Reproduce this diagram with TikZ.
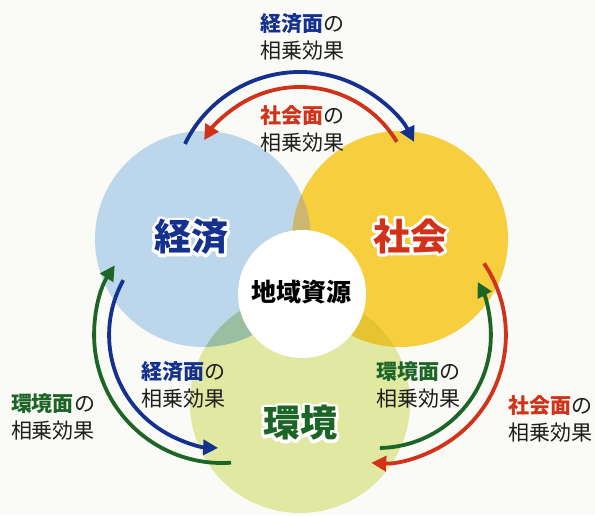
\documentclass[tikz,border=0pt]{standalone}
\usepackage{fontspec}
\setmainfont{Noto Sans CJK JP}
\usetikzlibrary{arrows.meta}
\definecolor{bg}{HTML}{FAFAF6}
\definecolor{fblue}{HTML}{BCD6EC}
\definecolor{fyel}{HTML}{F6CE3E}
\definecolor{fgrn}{HTML}{E1E8A2}
\definecolor{fby}{HTML}{CDB770}
\definecolor{fbg}{HTML}{99BEA2}
\definecolor{fyg}{HTML}{E6C332}
\definecolor{cblue}{HTML}{14318F}
\definecolor{cred}{HTML}{D0321A}
\definecolor{cgrn}{HTML}{1C6526}
\definecolor{txt}{HTML}{1E1E1E}
\tikzset{
  biglbl/.style={font=\fontsize{37}{40}\selectfont\bfseries, inner sep=0pt},
  halolbl/.style={font=\fontsize{37}{40}\selectfont\bfseries\addfontfeature{FakeBold=16}, inner sep=0pt, text=white, line join=round, draw=none},
  smalllbl/.style={font=\fontsize{21}{27}\selectfont, align=center, text=txt, inner sep=0pt},
  arcline/.style={line width=3.8pt, -{Triangle[length=15pt,width=15pt]}},
}
\begin{document}
\begin{tikzpicture}[x=1pt,y=1pt]
\useasboundingbox (0,0) rectangle (595,515);
\fill[bg] (0,0) rectangle (595,515);
% circle centres
\coordinate (cB) at (203,276);
\coordinate (cY) at (400,276);
\coordinate (cG) at (300,112);
\coordinate (cW) at (302,221);
\fill[fblue] (cB) circle[radius=108pt];
\fill[fyel] (cY) circle[radius=108pt];
\fill[fgrn] (cG) circle[radius=110pt];
\begin{scope}
  \clip (cB) circle[radius=108pt];
  \fill[fby] (cY) circle[radius=108pt];
\end{scope}
\begin{scope}
  \clip (cB) circle[radius=108pt];
  \fill[fbg] (cG) circle[radius=110pt];
\end{scope}
\begin{scope}
  \clip (cY) circle[radius=108pt];
  \fill[fyg] (cG) circle[radius=110pt];
\end{scope}
\fill[white] (cW) circle[radius=64pt];

% big labels with white halo
\begin{scope}[line join=round]
\node[halolbl] (keizaiH) at (191,278) {経済};
\node[halolbl] (shakaiH) at (410,279) {社会};
\node[halolbl] (kankyoH) at (300,92) {環境};
\end{scope}
\node[biglbl, text=cblue] (keizai) at (191,278) {経済};
\node[biglbl, text=cred] (shakai) at (410,279) {社会};
\node[biglbl, text=cgrn] (kankyo) at (300,92) {環境};
\node[font=\fontsize{25}{28}\selectfont\bfseries, text=black, inner sep=0pt] (chiiki) at (301,223) {地域資源};

% small labels
\node[smalllbl] (t1) at (302,478) {\textbf{\color{cblue}経済面}の\\相乗効果};
\node[smalllbl] (t2) at (302,386.5) {\textbf{\color{cred}社会面}の\\相乗効果};
\node[smalllbl] (l1) at (183,130) {\textbf{\color{cblue}経済面}の\\相乗効果};
\node[smalllbl] (l2) at (53,98.5) {\textbf{\color{cgrn}環境面}の\\相乗効果};
\node[smalllbl] (r1) at (418,130) {\textbf{\color{cgrn}環境面}の\\相乗効果};
\node[smalllbl] (r2) at (550,96) {\textbf{\color{cred}社会面}の\\相乗効果};

% arc centres
\coordinate (A1) at (300,315);
\coordinate (A2) at (222.1,180);
\coordinate (A3) at (377.9,180);
% top pair
\draw[arcline, cblue] ([shift={(154:128pt)}]A1) arc[start angle=154, end angle=27, radius=128pt];
\draw[arcline, cred] ([shift={(31:113pt)}]A1) arc[start angle=31, end angle=148, radius=113pt];
% left pair
\draw[arcline, cgrn] ([shift={(274:128pt)}]A2) arc[start angle=274, end angle=147, radius=128pt];
\draw[arcline, cblue] ([shift={(151:113pt)}]A2) arc[start angle=151, end angle=268, radius=113pt];
% right pair
\draw[arcline, cred] ([shift={(34:128pt)}]A3) arc[start angle=34, end angle=-93, radius=128pt];
\draw[arcline, cgrn] ([shift={(-89:113pt)}]A3) arc[start angle=-89, end angle=28, radius=113pt];
\end{tikzpicture}
\end{document}
